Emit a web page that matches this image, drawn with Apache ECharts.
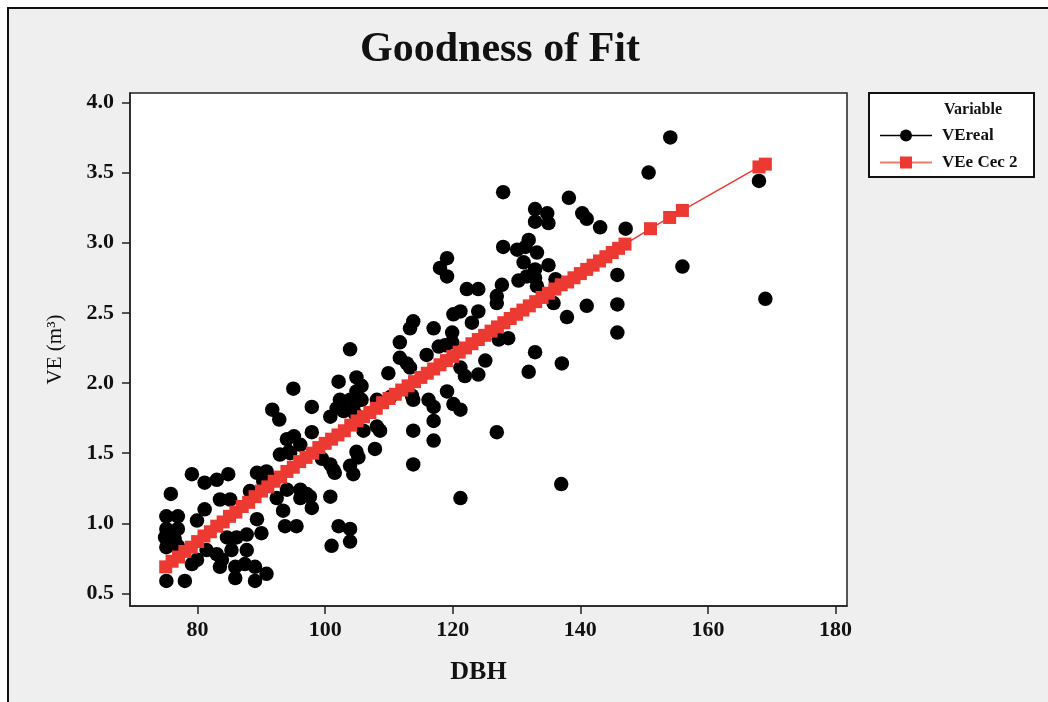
<!DOCTYPE html>
<html>
<head>
<meta charset="utf-8">
<script src="https://cdn.jsdelivr.net/npm/echarts@6/dist/echarts.min.js"></script>
<style>
  html, body { margin:0; padding:0; background:#fff; width:1048px; height:702px; overflow:hidden; }
  #frame { position:absolute; left:7px; top:7px; width:1100px; height:800px; background:#efefef; border-left:2px solid #111; border-top:2px solid #111; }
  #main { position:absolute; left:0; top:0; width:1048px; height:702px; }
</style>
</head>
<body>
<div id="frame"></div>
<div id="main"></div>
<script>
// ---- Data ----
const titleText = 'Goodness of Fit';
const seriesNames = ['VEreal', 'VEe Cec 2'];
const xTicks = [80, 100, 120, 140, 160, 180];
const yTicks = [0.5, 1.0, 1.5, 2.0, 2.5, 3.0, 3.5, 4.0];

// Observed volume (VEreal)
const dbhReal = [79.1,81.1,83.0,84.8,75.8,75.1,76.9,75.1,76.9,74.9,76.4,75.1,76.9,75.9,79.9,81.1,79.1,79.9,75.1,78.0,
  83.5,85.1,81.4,83.0,83.5,85.3,85.9,85.9,87.4,87.7,89.0,89.0,90.8,87.7,86.1,84.6,90.0,89.3,83.8,89.3,
  90.8,90.3,88.2,92.4,93.4,93.7,95.5,96.1,97.6,97.9,92.9,94.5,100.8,101.0,102.1,103.9,103.9,99.5,101.3,103.9,
  104.4,91.9,94.0,113.8,113.3,117.0,120.1,121.2,124.0,126.9,123.0,119.9,117.8,118.8,119.9,111.7,115.9,111.7,112.8,103.9,
  109.9,113.3,121.2,121.9,124.0,125.1,127.2,128.7,132.9,131.9,102.1,104.9,105.7,104.9,103.9,105.7,104.4,102.3,101.8,100.8,
  102.9,104.7,97.9,108.1,110.2,113.6,113.8,116.2,117.0,119.1,120.1,121.2,117.0,113.8,117.0,126.9,108.6,108.1,106.0,97.9,
  107.8,104.9,105.2,101.5,100.8,113.8,96.1,97.1,121.2,127.9,138.2,140.3,141.0,143.1,147.1,150.7,132.9,134.8,132.9,135.0,
  127.9,131.9,130.1,133.2,131.4,131.1,135.0,132.9,132.9,133.2,130.3,131.6,136.1,145.8,119.1,118.0,119.1,122.2,124.0,127.7,
  126.9,135.8,141.0,145.8,137.9,145.8,137.1,154.1,168.0,156.0,169.0,137.0,91.7,92.8,95.0,94.0,95.1,96.1,94.3];
const veReal = [1.35,1.29,1.31,1.35,1.21,1.05,1.05,0.96,0.96,0.90,0.89,0.83,0.84,0.92,1.02,1.10,0.71,0.74,0.59,0.59,
  1.17,1.17,0.81,0.78,0.69,0.81,0.69,0.61,0.71,0.81,0.69,0.59,0.64,0.92,0.90,0.90,0.93,1.03,0.74,1.36,
  1.37,1.30,1.23,1.18,1.09,0.98,0.98,1.18,1.19,1.11,1.49,1.50,1.19,0.84,0.98,0.96,0.87,1.46,1.38,1.41,
  1.35,1.31,1.24,2.44,2.39,2.39,2.49,2.51,2.51,2.57,2.43,2.36,2.26,2.27,2.29,2.29,2.20,2.18,2.14,2.24,
  2.07,2.11,2.11,2.05,2.06,2.16,2.31,2.32,2.22,2.08,2.01,2.04,1.98,1.94,1.88,1.88,1.83,1.88,1.82,1.76,
  1.80,1.78,1.83,1.88,1.90,1.91,1.88,1.88,1.83,1.94,1.85,1.81,1.73,1.66,1.59,1.65,1.66,1.69,1.66,1.65,
  1.53,1.51,1.47,1.36,1.42,1.42,1.24,1.21,1.18,3.36,3.32,3.21,3.17,3.11,3.10,3.50,3.24,3.21,3.15,3.14,
  2.97,3.02,2.95,2.93,2.97,2.86,2.84,2.81,2.75,2.69,2.73,2.76,2.74,2.77,2.89,2.82,2.76,2.67,2.67,2.70,
  2.62,2.57,2.55,2.56,2.47,2.36,2.14,3.75,3.44,2.83,2.60,1.28,1.81,1.74,1.96,1.60,1.62,1.56,1.51];

// Fitted volume (VEe Cec 2)
const dbhFit = [75,76,77,78,79,80,81,82,83,84,85,86,87,88,89,90,91,92,93,94,95,96,97,98,99,100,
  101,102,103,104,105,106,107,108,109,110,111,112,113,114,115,116,117,118,119,120,121,122,123,124,125,
  126,127,128,129,130,131,132,133,134,135,136,137,138,139,140,141,142,143,144,145,146,147,151,154,156,168,169];
const veFit = [0.69,0.73,0.76,0.80,0.83,0.87,0.91,0.94,0.98,1.01,1.05,1.08,1.12,1.15,1.19,1.23,1.26,1.30,1.33,1.37,1.40,1.44,1.47,1.50,1.54,1.57,
  1.60,1.63,1.66,1.70,1.73,1.76,1.79,1.82,1.86,1.89,1.92,1.95,1.98,2.01,2.04,2.07,2.10,2.13,2.16,2.19,2.22,2.25,2.28,2.31,2.34,
  2.37,2.40,2.43,2.46,2.49,2.52,2.55,2.58,2.61,2.64,2.67,2.70,2.72,2.75,2.78,2.81,2.84,2.87,2.90,2.93,2.96,2.99,3.10,3.18,3.23,3.54,3.56];

const realData = dbhReal.map((d, i) => [d, veReal[i]]);
const fitData = dbhFit.map((d, i) => [d, veFit[i]]);

const SERIF = "'Liberation Serif', 'Times New Roman', serif";
const RED = '#EC3A33';

const chart = echarts.init(document.getElementById('main'), null, { renderer: 'canvas' });
chart.setOption({
  backgroundColor: 'transparent',
  animation: false,
  title: {
    text: titleText,
    left: 495, top: 24, textAlign: 'center',
    textStyle: { fontFamily: SERIF, fontSize: 42, fontWeight: 'bold', color: '#111' }
  },
  grid: {
    left: 130, right: 201, top: 93, bottom: 96,
    show: true, backgroundColor: '#fff', borderColor: '#222', borderWidth: 1.5
  },
  xAxis: {
    type: 'value', min: 69.4, max: 181.8,
    name: 'DBH', nameLocation: 'middle', nameGap: 53,
    nameTextStyle: { fontFamily: SERIF, fontSize: 26, fontWeight: 'bold', color: '#111', padding: [0, 20, 0, 0] },
    axisLine: { show: true, lineStyle: { color: '#222', width: 1.5 } },
    axisTick: { show: true, length: 8, customValues: xTicks, lineStyle: { color: '#222', width: 1.5 } },
    axisLabel: { customValues: xTicks, margin: 13, fontFamily: SERIF, fontSize: 22, fontWeight: 'bold', color: '#111' },
    splitLine: { show: false }
  },
  yAxis: {
    type: 'value', min: 0.411, max: 4.067,
    name: 'VE (m³)', nameLocation: 'middle', nameGap: 64,
    nameTextStyle: { fontFamily: SERIF, fontSize: 21, color: '#111' },
    axisLine: { show: true, lineStyle: { color: '#222', width: 1.5 } },
    axisTick: { show: true, length: 8, customValues: yTicks, lineStyle: { color: '#222', width: 1.5 } },
    axisLabel: { customValues: yTicks, margin: 16, formatter: v => v.toFixed(1),
      fontFamily: SERIF, fontSize: 22, fontWeight: 'bold', color: '#111' },
    splitLine: { show: false }
  },
  legend: {
    orient: 'vertical', left: 879, top: 127, padding: 0,
    itemWidth: 52, itemHeight: 15, itemGap: 10,
    textStyle: { fontFamily: SERIF, fontSize: 17, fontWeight: 'bold', color: '#111', padding: [0, 0, 0, 5] },
    data: [
      { name: seriesNames[0], lineStyle: { width: 1.5, color: '#000', opacity: 1 } },
      { name: seriesNames[1], lineStyle: { width: 2, color: '#F47A72', opacity: 1 } }
    ]
  },
  graphic: [
    { type: 'rect', z: 1, shape: { x: 869, y: 93, width: 165, height: 84 },
      style: { fill: '#fff', stroke: '#111', lineWidth: 2 } },
    { type: 'text', z: 2, x: 973, y: 110,
      style: { text: 'Variable', fill: '#111', font: "bold 16px 'Liberation Serif', serif", align: 'center', verticalAlign: 'middle' } }
  ],
  series: [
    {
      name: seriesNames[0], type: 'line', data: realData,
      symbol: 'circle', symbolSize: 14.5, showSymbol: true,
      itemStyle: { color: '#000' },
      lineStyle: { width: 0, color: '#000' },
      z: 3
    },
    {
      name: seriesNames[1], type: 'line', data: fitData,
      symbol: 'rect', symbolSize: 13, showSymbol: true,
      itemStyle: { color: RED },
      lineStyle: { width: 1.5, color: RED },
      z: 4
    }
  ]
});
</script>
</body>
</html>
